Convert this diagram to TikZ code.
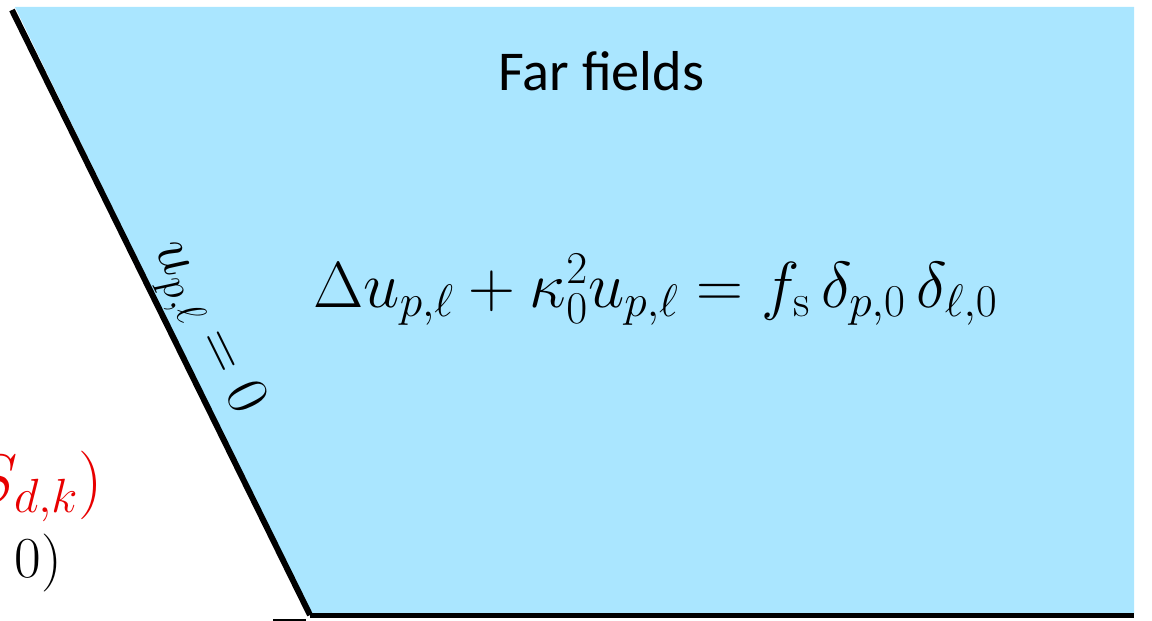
\RequirePackage{fix-cm}
\documentclass[tikz,border=0pt]{standalone}
\usepackage{amsmath}
\usepackage{amssymb}
\usepackage{fontspec}
\newfontfamily\titlefont{Carlito}
\usetikzlibrary{positioning,calc}
\definecolor{farblue}{RGB}{170,230,255}
\definecolor{srcred}{RGB}{232,0,0}

\begin{document}
\begin{tikzpicture}
\useasboundingbox (0,0) rectangle (23.04,12.4);
\clip (0,0) rectangle (23.04,12.4);
\coordinate (filltop) at (0.3,12.26);
\coordinate (topleft) at (0.24,12.2);
\coordinate (bottomleft) at (6.2,0.1);
\coordinate (bottomright) at (22.68,0.1);
\coordinate (topright) at (22.68,12.26);
\coordinate (stubleft) at (5.46,-0.03);
\coordinate (stubright) at (6.12,-0.03);
\fill[farblue] (filltop) -- (topright) -- (bottomright) -- (bottomleft) -- cycle;
\draw[line width=0.12cm] (topleft) -- (bottomleft) node[sloped,above,pos=0.55,inner sep=1pt,font=\fontsize{34}{40}\selectfont] (wall) {$u_{p,\ell} = 0$};
\draw[line width=0.1cm] (bottomleft) -- (bottomright);
\draw[line width=0.1cm] (stubleft) -- (stubright);
\node[anchor=base,inner sep=0pt,font=\titlefont\fontsize{32}{38}\selectfont] (title) at (12.03,10.6) {Far fields};
\node[anchor=base west,inner sep=0pt,font=\fontsize{37}{44}\selectfont] (helmholtz) at (6.26,6.26) {$\Delta u_{p,\ell} + \kappa_0^2 u_{p,\ell} = f_{\mathrm{s}}\,\delta_{p,0}\,\delta_{\ell,0}$};
\node[anchor=base east,inner sep=0pt,srcred,font=\fontsize{39}{46}\selectfont] (source) at (2.06,2.35) {$S_{d,k})$};
\node[anchor=base east,inner sep=0pt,font=\fontsize{33}{40}\selectfont] (zero) at (1.24,0.86) {$0)$};
\end{tikzpicture}
\end{document}
